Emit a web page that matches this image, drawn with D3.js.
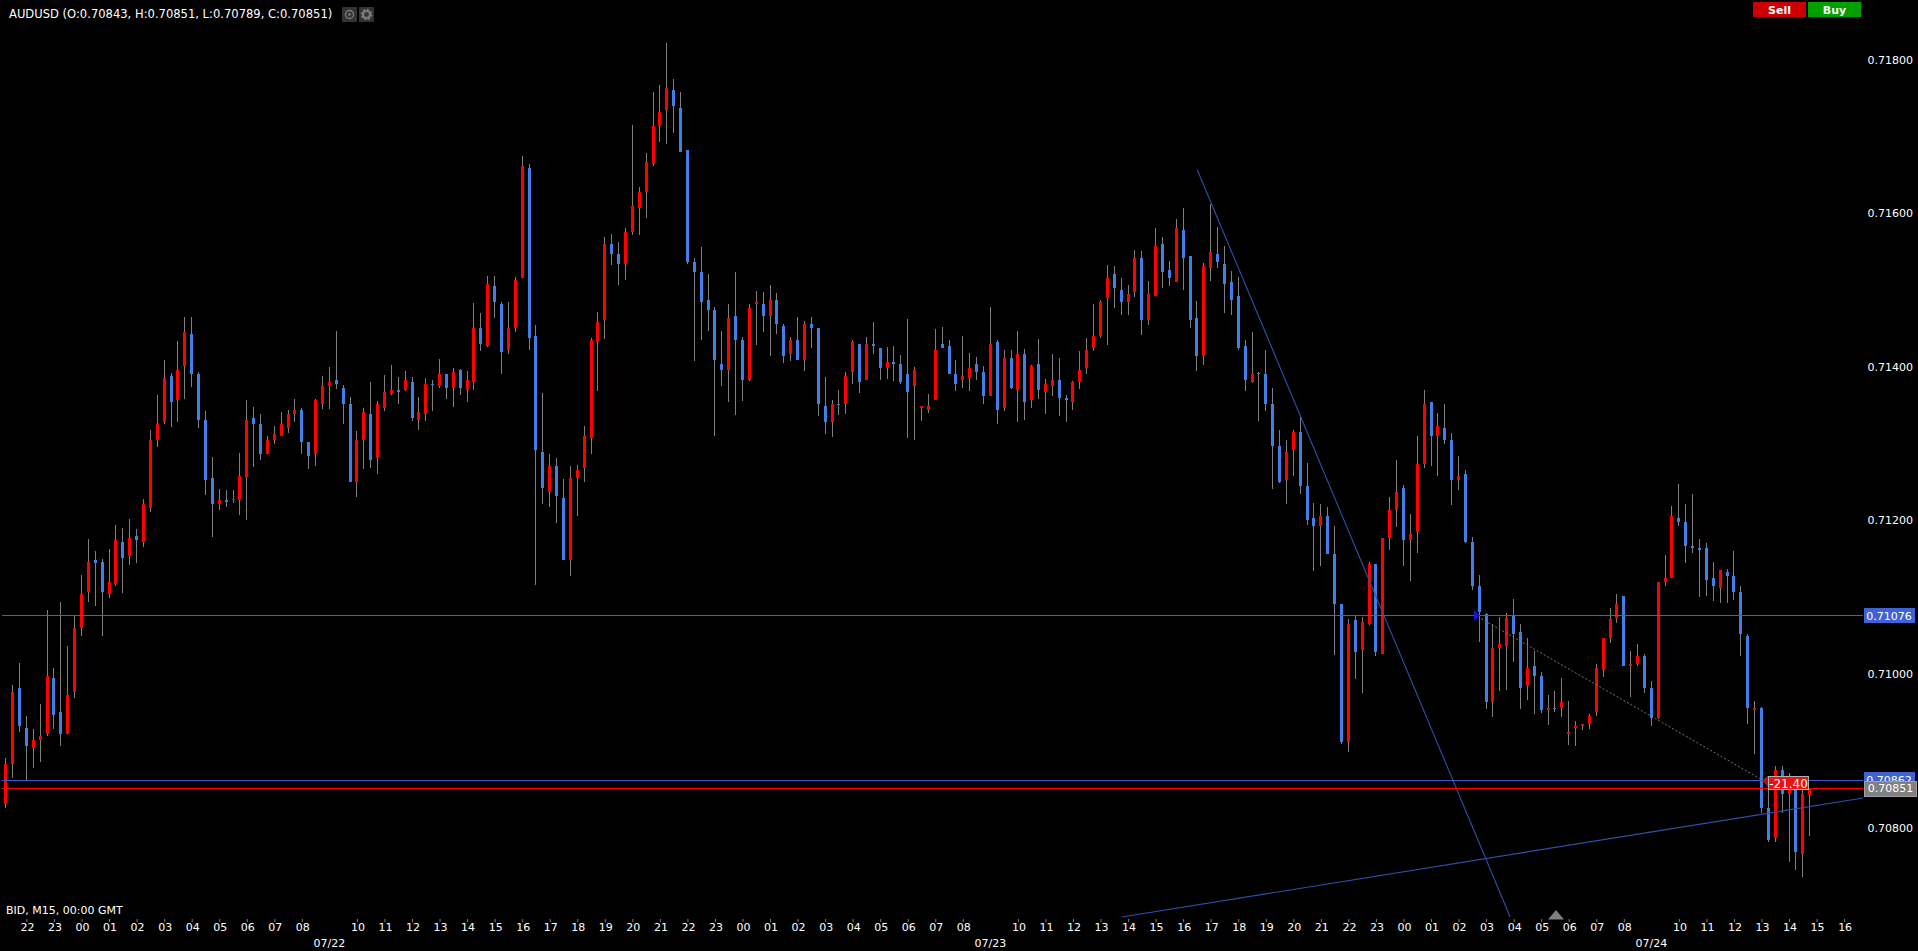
<!DOCTYPE html>
<html><head><meta charset="utf-8">
<style>
html,body{margin:0;padding:0;background:#000;overflow:hidden}
svg{display:block}
text{font-family:"DejaVu Sans",Verdana,sans-serif;font-size:11px;fill:#fff}
</style>
<script src="https://cdn.jsdelivr.net/npm/d3@7/dist/d3.min.js"></script>
</head><body><svg id="c" width="1918" height="951"></svg>
<script>
// Prices are in points (1e-5)
const opens=[
70831,70883,70982,70930,70904,70914,70922,70995,70951,70922,
70977,71060,71107,71149,71146,71104,71117,71172,71154,71180,
71172,71216,71305,71328,71388,71357,71401,71443,71391,71331,
71255,71222,71227,71227,71227,71256,71333,71326,71287,71305,
71310,71320,71339,71344,71302,71287,71352,71375,71383,71373,
71352,71250,71305,71339,71281,71347,71365,71370,71370,71380,
71331,71339,71378,71375,71391,71373,71396,71370,71380,71451,
71427,71506,71482,71422,71451,71516,71659,71440,71289,71237,
71271,71229,71149,71255,71268,71308,71433,71461,71560,71547,
71534,71576,71607,71628,71664,71714,71735,71761,71737,71683,
71537,71524,71487,71474,71404,71396,71466,71435,71383,71482,
71482,71466,71487,71453,71417,71435,71409,71456,71451,71349,
71328,71352,71352,71393,71430,71383,71430,71425,71399,71406,
71404,71391,71375,71347,71344,71357,71430,71427,71391,71383,
71386,71404,71394,71362,71433,71347,71412,71370,71417,71357,
71404,71367,71375,71383,71360,71354,71380,71399,71425,71440,
71490,71521,71500,71485,71498,71542,71461,71492,71560,71526,
71511,71578,71544,71464,71414,71529,71547,71534,71510,71492,
71427,71380,71392,71391,71352,71297,71253,71292,71315,71245,
71203,71193,71206,71156,71091,70911,71070,71031,71065,71143,
71026,71177,71214,71242,71175,71185,71274,71354,71310,71320,
71305,71253,71261,71172,71115,71078,70964,71034,71037,71076,
71055,70985,71011,70998,70953,70956,70956,70922,70930,70932,
70935,70951,71005,71047,71073,71102,71011,71013,71024,70982,
70943,71120,71125,71203,71198,71167,71164,71164,71125,71112,
71133,71128,71107,71050,70953,70956,70826,70787,70875,70844,
70849,70766,70843];
const closes=[
70883,70977,70932,70906,70914,70919,70998,70946,70922,70972,
71060,71104,71146,71144,71107,71120,71175,71151,71177,71175,
71222,71305,71326,71386,71354,71396,71446,71391,71331,71253,
71222,71227,71224,71228,71258,71331,71326,71287,71305,71313,
71326,71339,71344,71302,71284,71357,71375,71380,71378,71352,
71250,71305,71341,71279,71352,71367,71370,71367,71383,71333,
71341,71378,71376,71391,71373,71393,71373,71383,71451,71430,
71508,71485,71420,71451,71513,71662,71438,71292,71242,71271,
71232,71149,71255,71266,71310,71435,71459,71560,71547,71534,
71576,71610,71628,71667,71714,71732,71763,71740,71680,71537,
71524,71485,71474,71409,71396,71464,71435,71383,71477,71485,
71466,71487,71456,71414,71435,71409,71456,71451,71352,71328,
71352,71351,71388,71433,71380,71430,71427,71399,71406,71404,
71380,71367,71396,71349,71349,71422,71425,71391,71378,71388,
71399,71394,71362,71430,71344,71412,71373,71417,71354,71401,
71370,71378,71383,71360,71357,71380,71396,71422,71440,71485,
71516,71503,71485,71495,71542,71461,71495,71558,71524,71516,
71581,71542,71461,71414,71531,71550,71537,71508,71487,71425,
71383,71391,71391,71352,71297,71250,71289,71315,71245,71201,
71193,71206,71156,71091,70911,71065,71029,71068,71143,71029,
71177,71214,71237,71175,71182,71274,71352,71310,71323,71305,
71253,71258,71172,71115,71081,70964,71034,71039,71073,71052,
70982,71008,70998,70953,70956,70955,70964,70925,70932,70935,
70945,71008,71047,71071,71091,71011,71013,71024,70982,70943,
71120,71125,71206,71198,71167,71164,71162,71123,71115,71136,
71128,71107,71052,70956,70956,70826,70784,70875,70844,70852,
70768,70844,70851];
const highs=[
70890,70986,71014,70945,70929,70961,71084,71008,71094,71037,
71076,71129,71176,71160,71150,71163,71194,71190,71202,71189,
71228,71318,71363,71409,71392,71434,71465,71465,71393,71343,
71283,71241,71240,71240,71288,71357,71348,71339,71310,71323,
71341,71344,71358,71347,71302,71358,71388,71400,71447,71376,
71361,71317,71347,71380,71356,71390,71403,71387,71395,71387,
71361,71386,71383,71410,71391,71399,71397,71395,71483,71470,
71519,71519,71485,71485,71517,71675,71664,71455,71366,71287,
71281,71254,71271,71272,71323,71438,71472,71569,71573,71563,
71581,71715,71634,71679,71758,71767,71822,71775,71758,71683,
71542,71556,71521,71478,71447,71482,71524,71439,71482,71499,
71498,71507,71496,71456,71439,71465,71460,71465,71451,71387,
71357,71370,71393,71435,71430,71439,71459,71425,71426,71427,
71416,71463,71400,71349,71365,71449,71452,71435,71409,71440,
71418,71413,71401,71478,71435,71422,71422,71447,71423,71403,
71436,71384,71417,71412,71363,71382,71421,71438,71482,71487,
71533,71532,71516,71507,71552,71551,71512,71581,71569,71538,
71593,71607,71544,71486,71535,71612,71582,71558,71525,71517,
71435,71446,71393,71422,71373,71318,71305,71318,71336,71275,
71223,71222,71218,71193,71091,71072,71076,71074,71146,71143,
71177,71231,71279,71246,71208,71310,71370,71354,71340,71352,
71314,71284,71266,71179,71129,71079,71065,71074,71080,71098,
71065,71047,71030,71003,70973,70978,70995,70965,70939,70935,
70948,71013,71047,71086,71104,71102,71030,71039,71026,70991,
71120,71155,71219,71248,71222,71235,71176,71170,71146,71136,
71137,71160,71115,71052,70965,70957,70862,70880,70880,70871,
70853,70849,70851];
const lows=[
70825,70865,70925,70862,70877,70886,70919,70929,70906,70922,
70969,71050,71094,71089,71049,71099,71114,71106,71142,71145,
71166,71211,71296,71326,71322,71328,71358,71374,71320,71233,
71179,71214,71218,71223,71207,71201,71270,71279,71287,71300,
71310,71314,71328,71287,71267,71271,71345,71345,71371,71326,
71250,71231,71267,71268,71261,71343,71363,71352,71369,71330,
71318,71330,71343,71373,71358,71348,71363,71354,71370,71421,
71426,71464,71391,71417,71446,71516,71422,71116,71222,71218,
71197,71149,71128,71206,71250,71287,71369,71436,71533,71507,
71513,71572,71572,71594,71662,71693,71690,71705,71680,71534,
71408,71435,71447,71310,71375,71354,71337,71356,71382,71429,
71446,71414,71443,71405,71408,71409,71395,71425,71336,71313,
71309,71337,71339,71378,71366,71383,71417,71383,71384,71382,
71378,71308,71305,71330,71340,71357,71425,71391,71369,71373,
71369,71383,71352,71362,71326,71343,71371,71328,71331,71347,
71358,71339,71362,71336,71328,71344,71371,71391,71421,71438,
71429,71477,71468,71468,71491,71442,71455,71492,71503,71505,
71511,71500,71451,71395,71403,71512,71529,71470,71468,71422,
71369,71379,71330,71343,71241,71249,71222,71258,71235,71194,
71134,71141,71156,71025,70909,70898,70993,70975,71064,71023,
71026,71162,71191,71141,71121,71158,71268,71271,71258,71300,
71220,71240,71171,71110,71042,70955,70944,70978,70979,71015,
70955,70966,70948,70949,70934,70951,70944,70908,70906,70927,
70929,70945,70996,71041,71067,71011,70970,71011,70975,70932,
70942,71114,71125,71193,71145,71158,71100,71102,71095,71093,
71093,71097,71024,70935,70896,70819,70781,70781,70819,70755,
70745,70736,70789];

const hourLabels=["22","23","00","01","02","03","04","05","06","07","08","09","10","11","12","13","14","15","16","17","18","19","20","21","22","23",
"00","01","02","03","04","05","06","07","08","09","10","11","12","13","14","15","16","17","18","19","20","21","22","23",
"00","01","02","03","04","05","06","07","08","09","10","11","12","13","14","15","16"];
const dateLabels=["07/22","07/23","07/24"];
const priceTicks=[71800,71600,71400,71200,71000,70800];
const askLine=71076, lowerLine=70862, bidLine=70851;
const titleText="AUDUSD (O:0.70843, H:0.70851, L:0.70789, C:0.70851)";
const footText="BID, M15, 00:00 GMT";
const profitText="-21.40";
// trend lines: [barIndex, price]
const trend1=[[173.06,71656.5],[218.5,70683.5]];
const trend2=[[162.1,70683.5],[269.76,70838.5]];
const tradeLine=[[214.3,71072],[255.1,70862]];

const RED="#ff0000", BLUE="#4080e6", WICK="#7f7f7f", LINE="#3a62d4", TLINE="#2f4fa8";
const svg=d3.select("#c");
svg.append("rect").attr("width",1918).attr("height",951).attr("fill","#000");

const x=d3.scaleLinear().domain([0,262]).range([5.8,1809.7]);
const y=d3.scaleLinear().domain([70800,71800]).range([827.54,59.84]);
const px=v=>(v/1e5).toFixed(5);
const data=opens.map((o,i)=>({i,o,c:closes[i],h:highs[i],l:lows[i]}));

const g=svg.append("g").attr("shape-rendering","crispEdges");
const cx=d=>Math.floor(x(d.i));
g.selectAll(".w").data(data).join("rect").attr("class","w")
 .attr("x",cx).attr("width",1)
 .attr("y",d=>Math.round(y(d.h)))
 .attr("height",d=>Math.max(1,Math.round(y(d.l))-Math.round(y(d.h))))
 .attr("fill",WICK);
g.selectAll(".b").data(data).join("rect").attr("class","b")
 .attr("x",d=>cx(d)-1).attr("width",3)
 .attr("y",d=>Math.round(y(Math.max(d.o,d.c))))
 .attr("height",d=>Math.max(1,Math.round(y(Math.min(d.o,d.c)))-Math.round(y(Math.max(d.o,d.c)))))
 .attr("fill",d=>d.c>=d.o?RED:BLUE);

// trend lines
const ln=d3.line().x(d=>x(d[0])).y(d=>y(d[1]));
[trend1,trend2].forEach(t=>svg.append("path").attr("d",ln(t)).attr("fill","none").attr("stroke",TLINE).attr("stroke-width",1.1));
svg.append("path").attr("d",ln(tradeLine)).attr("fill","none").attr("stroke","#777").attr("stroke-width",1).attr("stroke-dasharray","2,2");

// horizontal lines
const hl=(p,col)=>svg.append("rect").attr("x",2).attr("width",1861).attr("y",Math.round(y(p)-0.2)).attr("height",1)
  .attr("shape-rendering","crispEdges").attr("fill",col);
hl(askLine,LINE); hl(lowerLine,LINE); hl(bidLine,RED);

// price axis
const ay=svg.append("g").attr("transform","translate(1913,0)")
 .call(d3.axisLeft(y).tickValues(priceTicks).tickSize(0).tickPadding(0).tickFormat(px));
ay.select(".domain").remove();
ay.selectAll("text").attr("fill","#fff").style("font-family",'"DejaVu Sans"').style("font-size","11px");

// time axis
const ticks=hourLabels.map((l,k)=>({l,b:3+4*k})).filter(d=>d.l!=="09");
const ax=svg.append("g").attr("transform","translate(0,919)")
 .call(d3.axisBottom(x).tickValues(ticks.map(d=>d.b)).tickSize(3).tickPadding(1.5)
   .tickFormat(b=>hourLabels[(b-3)/4]));
ax.select(".domain").remove();
ax.selectAll("line").attr("stroke","#808080");
ax.selectAll("text").attr("fill","#fff").attr("dx",0.5).style("font-family",'"DejaVu Sans"').style("font-size","11px");
svg.append("g").selectAll("text").data(dateLabels).join("text")
 .attr("x",(d,i)=>x(47+96*i)).attr("y",947).attr("text-anchor","middle").text(d=>d);

// price tags
const tag=(p,col,xx,w,h,bd)=>{
  const yy=y(p);
  svg.append("rect").attr("x",xx).attr("y",Math.round(yy-h/2)).attr("width",w).attr("height",h)
   .attr("fill",col).attr("stroke",bd||"none").attr("shape-rendering","crispEdges");
  svg.append("text").attr("x",xx+w/2).attr("y",yy+4).attr("text-anchor","middle").text(px(p));
};
tag(askLine,"#3f63d6",1863.5,51,15);
tag(lowerLine,"#3f63d6",1863.5,51,15);
tag(bidLine,"#808080",1864.5,52,15,"#a0a0a0");

// trade markers
svg.append("path").attr("d","M1474 610L1480 615.5L1474 621Z").attr("fill","#1414e0");
svg.append("path").attr("d","M1768 775.5L1762 780.5L1768 787Z").attr("fill","#a01818");
svg.append("rect").attr("x",1768.5).attr("y",776.5).attr("width",40).attr("height",13).attr("fill","#ee0f0f").attr("stroke","#b0b0b0").attr("shape-rendering","crispEdges");
svg.append("text").attr("x",1788.5).attr("y",787.5).attr("text-anchor","middle").style("font-size","12px").text(profitText);
svg.append("path").attr("d","M1548 919.5L1556 910L1564 919.5Z").attr("fill","#808080");

// header
svg.append("text").attr("x",9).attr("y",18).style("font-size","11.55px").text(titleText);
svg.append("text").attr("x",6).attr("y",914).text(footText);
[342,359].forEach(v=>svg.append("rect").attr("x",v).attr("y",7).attr("width",15).attr("height",15).attr("rx",1).attr("fill","#333"));
svg.append("circle").attr("cx",349.5).attr("cy",14.5).attr("r",4).attr("fill","none").attr("stroke","#7a7a7a").attr("stroke-width",1.3);
svg.append("circle").attr("cx",349.5).attr("cy",14.5).attr("r",1.3).attr("fill","#7a7a7a");
svg.append("circle").attr("cx",366.5).attr("cy",14.5).attr("r",3.6).attr("fill","none").attr("stroke","#7a7a7a").attr("stroke-width",2.4);
svg.append("circle").attr("cx",366.5).attr("cy",14.5).attr("r",5).attr("fill","none").attr("stroke","#7a7a7a").attr("stroke-width",1.6).attr("stroke-dasharray","2,1.9");
[["Sell",1753,"#cc0000"],["Buy",1808,"#00a000"]].forEach(([t,xx,col])=>{
  svg.append("rect").attr("x",xx).attr("y",2).attr("width",53).attr("height",15).attr("fill",col);
  svg.append("text").attr("x",xx+26.5).attr("y",14).attr("text-anchor","middle").style("font-weight","bold").text(t);
});
</script></body></html>
